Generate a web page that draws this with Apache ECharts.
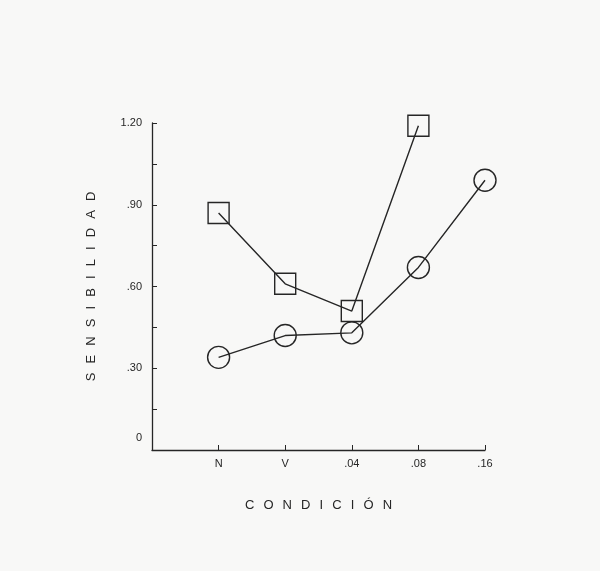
<!DOCTYPE html>
<html>
<head>
<meta charset="utf-8">
<script src="https://cdn.jsdelivr.net/npm/echarts@6/dist/echarts.min.js"></script>
<style>
  html, body { margin: 0; padding: 0; background: #f8f8f7; }
  #chart { width: 600px; height: 571px; }
</style>
</head>
<body>
<div id="chart"></div>
<script>
// Conditions along the x axis (leading blank slot is the origin)
const categories = ['', 'N', 'V', '.04', '.08', '.16'];
// Sensitivity per condition
const squareValues = [null, 0.87, 0.61, 0.51, 1.19, null];
const circleValues = [null, 0.34, 0.42, 0.43, 0.67, 0.99];
// Printed y tick labels, one per 0.30 step
const yTickLabels = ['0', '.30', '.60', '.90', '1.20'];

const spaced = s => s.split('').join('\u2002\u2009');
const ink = '#262626';
const font = '"Liberation Sans", Arial, sans-serif';

const chart = echarts.init(document.getElementById('chart'));
chart.setOption({
  backgroundColor: '#f8f8f7',
  animation: false,
  grid: { left: 152, right: 115, top: 123, bottom: 121 },
  xAxis: {
    type: 'category',
    data: categories,
    boundaryGap: false,
    name: spaced('CONDICIÓN'),
    nameLocation: 'middle',
    nameGap: 49,
    nameTextStyle: { color: ink, fontSize: 13, fontFamily: font },
    axisLine: { lineStyle: { color: ink, width: 1.3 } },
    axisTick: { inside: true, length: 5, lineStyle: { color: ink } },
    axisLabel: { color: ink, fontSize: 11, fontFamily: font, margin: 8 },
    splitLine: { show: false }
  },
  yAxis: {
    type: 'value',
    min: 0,
    max: 1.2,
    interval: 0.3,
    name: spaced('SENSIBILIDAD'),
    nameLocation: 'middle',
    nameGap: 54,
    nameRotate: 90,
    nameTextStyle: { color: ink, fontSize: 13, fontFamily: font },
    axisLine: { show: true, lineStyle: { color: ink, width: 1.3 } },
    axisTick: { show: true, inside: true, length: 5, lineStyle: { color: ink } },
    minorTick: { show: true, splitNumber: 2, length: 5, lineStyle: { color: ink } },
    axisLabel: {
      color: ink, fontSize: 11, fontFamily: font, margin: 10,
      formatter: v => {
        const t = yTickLabels[Math.round(v / 0.3)];
        return v === 0 ? '{z|' + t + '}' : t;
      },
      rich: { z: { color: ink, fontSize: 11, fontFamily: font, padding: [0, 0, 24, 0] } }
    },
    splitLine: { show: false }
  },
  series: [
    {
      type: 'line',
      data: squareValues,
      symbol: 'rect',
      symbolSize: 21,
      lineStyle: { color: ink, width: 1.4 },
      itemStyle: { color: 'rgba(0,0,0,0)', borderColor: ink, borderWidth: 1.4 }
    },
    {
      type: 'line',
      data: circleValues,
      symbol: 'circle',
      symbolSize: 22,
      lineStyle: { color: ink, width: 1.4 },
      itemStyle: { color: 'rgba(0,0,0,0)', borderColor: ink, borderWidth: 1.4 }
    }
  ]
});
</script>
</body>
</html>
